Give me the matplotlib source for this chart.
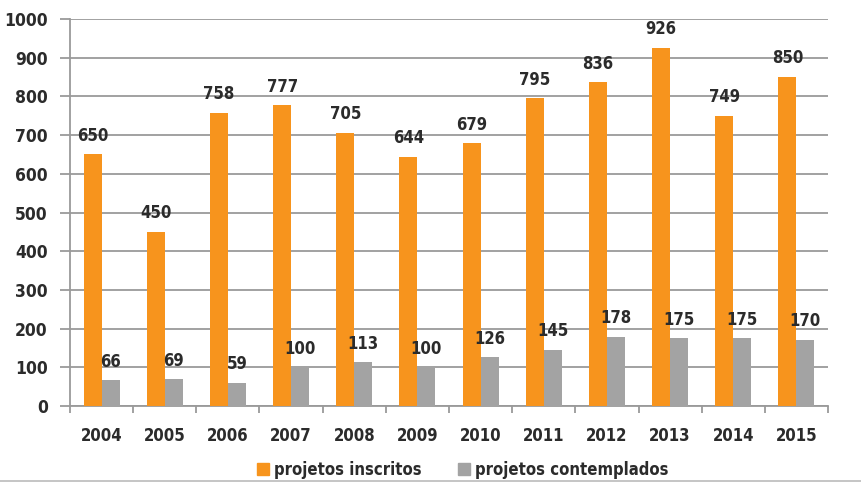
import matplotlib
matplotlib.use("Agg")
import matplotlib.pyplot as plt
import numpy as np
from matplotlib.patches import Patch

years = ["2004", "2005", "2006", "2007", "2008", "2009", "2010", "2011", "2012", "2013", "2014", "2015"]
inscritos = [650, 450, 758, 777, 705, 644, 679, 795, 836, 926, 749, 850]
contemplados = [66, 69, 59, 100, 113, 100, 126, 145, 178, 175, 175, 170]
series_names = ["projetos inscritos", "projetos contemplados"]
yticks = [0, 100, 200, 300, 400, 500, 600, 700, 800, 900, 1000]

orange = "#F7941D"
gray = "#A3A3A3"
txt = "#2b2b2b"
grid = "#9a9a9a"

plt.rcParams['font.family'] = ['DejaVu Sans']
plt.rcParams['font.stretch'] = 'condensed'
plt.rcParams['font.weight'] = 'bold'

fig = plt.figure(figsize=(8.62, 4.82), dpi=100)
ax = fig.add_axes([70/862, 1-406/482, (828-70)/862, (406-19)/482])

x = np.arange(len(years))
w = 0.285
ax.bar(x - w/2, inscritos, w, color=orange, zorder=3)
ax.bar(x + w/2, contemplados, w, color=gray, zorder=3)

for xi, v in zip(x, inscritos):
    ax.annotate(str(v), (xi - w/2, v), xytext=(0, 7), textcoords="offset points",
                ha="center", va="bottom", fontsize=12, color=txt, fontweight="bold")
for xi, v in zip(x, contemplados):
    ax.annotate(str(v), (xi + w/2, v), xytext=(0, 7), textcoords="offset points",
                ha="center", va="bottom", fontsize=12, color=txt, fontweight="bold")

ax.set_xlim(-0.5, len(years) - 0.5)
ax.set_ylim(0, 1000)
ax.set_yticks(yticks)
ax.set_yticklabels([str(t) for t in yticks], fontsize=12.5, color=txt, fontweight="bold")
ax.yaxis.grid(True, color=grid, linewidth=1.3, zorder=0)
ax.tick_params(axis="y", length=7, color=grid, width=1.3, pad=9)

ax.set_xticks(x)
ax.set_xticklabels(years, fontsize=12, color=txt, fontweight="bold")
ax.tick_params(axis="x", length=0, pad=15)
ax.set_xticks(np.arange(-0.5, len(years)), minor=True)
ax.tick_params(axis="x", which="minor", length=5, color=grid, width=1.3)

for s in ["top", "right"]:
    ax.spines[s].set_visible(False)
for s in ["left", "bottom"]:
    ax.spines[s].set_color(grid)
    ax.spines[s].set_linewidth(1.3)

handles = [Patch(color=orange), Patch(color=gray)]
fig.legend(handles, series_names, loc="center", bbox_to_anchor=(0.537, 0.025), ncol=2,
           frameon=False, prop={"size": 12, "weight": "bold", "stretch": "condensed"},
           handlelength=0.7, handleheight=0.7,
           handletextpad=0.3, columnspacing=2.2, labelcolor=txt)

fig.add_artist(plt.Line2D([0, 1], [0.003, 0.003], color="#bbbbbb", linewidth=1.2))

fig.savefig("out.png", dpi=100)
